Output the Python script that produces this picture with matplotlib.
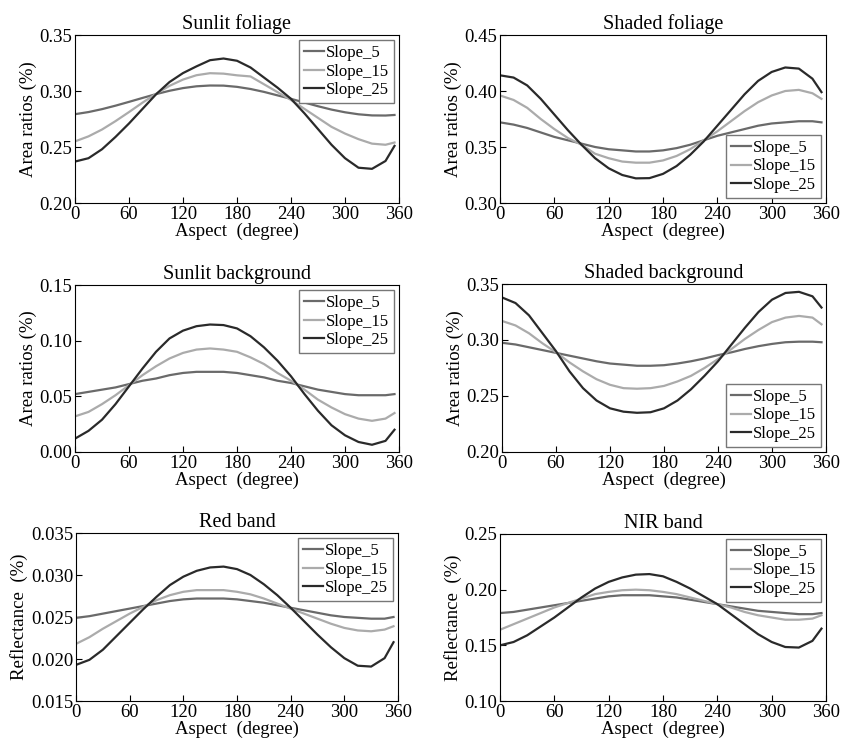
import numpy as np
import matplotlib.pyplot as plt

plt.rcParams['font.family'] = ['Liberation Serif', 'DejaVu Serif']

# aspect angles (degree)
aspect = [0, 15, 30, 45, 60, 75, 90, 105, 120, 135, 150, 165, 180,
          195, 210, 225, 240, 255, 270, 285, 300, 315, 330, 345, 355]

# Sunlit foliage
sf_5 = [.2793, .2812, .2838, .2869, .2903, .2938, .2972, .3002, .3026, .3042, .3049, .3048, .3037,
        .3018, .2992, .2961, .2930, .2897, .2864, .2834, .2810, .2792, .2782, .2781, .2786]
sf_15 = [.255, .2595, .2656, .2731, .2812, .2896, .2975, .3046, .3102, .3141, .3159, .3155, .3140,
         .313, .306, .299, .292, .284, .276, .268, .262, .257, .253, .252, .254]
sf_25 = [.237, .240, .248, .259, .271, .284, .297, .308, .316, .322, .3275, .329, .327,
         .321, .312, .303, .293, .280, .266, .252, .240, .2315, .2305, .2375, .251]

# Shaded foliage
hf_5 = [.372, .370, .367, .363, .359, .356, .353, .350, .348, .347, .346, .346, .347,
        .349, .352, .356, .360, .363, .366, .369, .371, .372, .373, .373, .372]
hf_15 = [.396, .392, .385, .375, .366, .358, .352, .344, .340, .337, .336, .336, .338,
         .342, .348, .356, .364, .373, .382, .390, .396, .400, .401, .398, .393]
hf_25 = [.414, .412, .405, .393, .379, .365, .352, .340, .331, .325, .322, .3222, .326,
         .333, .343, .355, .369, .383, .397, .409, .417, .421, .420, .411, .399]

# Sunlit background
sb_5 = [.052, .054, .056, .058, .061, .064, .066, .069, .071, .072, .072, .072, .071,
        .069, .067, .064, .062, .059, .056, .054, .052, .051, .051, .051, .052]
sb_15 = [.032, .036, .043, .051, .060, .069, .077, .084, .089, .092, .093, .092, .090,
         .085, .079, .071, .064, .056, .047, .040, .034, .030, .028, .030, .035]
sb_25 = [.012, .019, .029, .043, .059, .075, .090, .102, .109, .113, .1145, .114, .111,
         .104, .094, .082, .068, .052, .037, .024, .015, .009, .0065, .010, .020]

# Shaded background
hb_5 = [.2975, .296, .2935, .291, .2885, .286, .2835, .281, .279, .278, .277, .277, .2775,
        .279, .281, .2835, .2865, .289, .292, .2945, .2965, .298, .2985, .2985, .298]
hb_15 = [.317, .313, .306, .297, .289, .280, .272, .265, .260, .257, .2565, .257, .259,
         .263, .268, .275, .283, .292, .301, .309, .316, .320, .3215, .320, .314]
hb_25 = [.338, .333, .322, .306, .290, .272, .257, .246, .239, .236, .235, .2355, .239,
         .246, .256, .268, .281, .296, .311, .325, .336, .342, .343, .339, .329]

# Red band
rb_5 = [.0249, .0251, .0254, .0257, .0260, .0263, .0266, .0269, .0271, .0272, .0272, .0272, .0271,
        .0269, .0267, .0264, .0261, .0258, .0255, .0252, .0250, .0249, .0248, .0248, .0250]
rb_15 = [.0218, .0226, .0236, .0245, .0254, .0262, .0270, .0276, .0280, .0282, .0282, .0282, .0280,
         .0277, .0272, .0266, .0260, .0254, .0248, .0242, .0237, .0234, .0233, .0235, .0239]
rb_25 = [.0193, .0199, .0211, .0227, .0243, .0259, .0274, .0288, .0298, .0305, .0309, .0310, .0307,
         .0300, .0289, .0276, .0261, .0245, .0229, .0214, .0201, .0192, .0191, .0201, .0220]

# NIR band
nb_5 = [.179, .180, .182, .184, .186, .188, .190, .192, .194, .195, .195, .195, .194,
        .193, .191, .189, .187, .185, .183, .181, .180, .179, .178, .178, .179]
nb_15 = [.164, .169, .174, .179, .184, .188, .192, .196, .198, .1995, .200, .1995, .198,
         .196, .193, .190, .187, .184, .180, .177, .175, .173, .173, .174, .177]
nb_25 = [.150, .153, .159, .167, .175, .184, .193, .201, .207, .211, .2135, .214, .212,
         .207, .201, .194, .187, .178, .169, .160, .153, .1485, .148, .154, .165]

labels = ["Slope_5", "Slope_15", "Slope_25"]
colors = ["#6a6a6a", "#ababab", "#2a2a2a"]

W, H = 842, 742
panels = [
    # title, series, ylim, yticks, ylabel, legend loc, tick format, pixel box (left, top, right, bottom)
    ("Sunlit foliage", [sf_5, sf_15, sf_25], (0.20, 0.35), np.arange(0.20, 0.351, 0.05),
     "Area ratios (%)", "upper right", "%.2f", (75, 35, 399, 203)),
    ("Shaded foliage", [hf_5, hf_15, hf_25], (0.30, 0.45), np.arange(0.30, 0.451, 0.05),
     "Area ratios (%)", "lower right", "%.2f", (500, 35, 826, 203)),
    ("Sunlit background", [sb_5, sb_15, sb_25], (0.0, 0.15), np.arange(0.0, 0.151, 0.05),
     "Area ratios (%)", "upper right", "%.2f", (75, 285, 399, 452)),
    ("Shaded background", [hb_5, hb_15, hb_25], (0.20, 0.35), np.arange(0.20, 0.351, 0.05),
     "Area ratios (%)", "lower right", "%.2f", (502, 284, 826, 452)),
    ("Red band", [rb_5, rb_15, rb_25], (0.015, 0.035), np.arange(0.015, 0.0351, 0.005),
     "Reflectance  (%)", "upper right", "%.3f", (76, 533, 398, 701)),
    ("NIR band", [nb_5, nb_15, nb_25], (0.10, 0.25), np.arange(0.10, 0.251, 0.05),
     "Reflectance  (%)", "upper right", "%.2f", (500, 534, 826, 701)),
]

fig = plt.figure(figsize=(W / 100, H / 100), dpi=100)

for title, series, ylim, yticks, ylabel, loc, fmt, box in panels:
    l, t, r, b = box
    ax = fig.add_axes([l / W, 1 - b / H, (r - l) / W, (b - t) / H])
    for vals, lab, c in zip(series, labels, colors):
        ax.plot(aspect, vals, color=c, lw=1.6, label=lab)
    ax.set_xlim(0, 360)
    ax.set_xticks(range(0, 361, 60))
    ax.set_ylim(*ylim)
    ax.set_yticks(yticks)
    ax.set_yticklabels([fmt % v for v in yticks])
    ax.tick_params(direction="in", length=4, labelsize=13.5, top=False, right=False, pad=2)
    ax.set_title(title, fontsize=14.5, pad=4)
    ax.set_xlabel("Aspect  (degree)", fontsize=13.5, labelpad=0)
    ax.set_ylabel(ylabel, fontsize=13.5, labelpad=2)
    leg = ax.legend(loc=loc, fontsize=12, frameon=True, fancybox=False, edgecolor="#777777",
                    framealpha=1, handlelength=1.2, handletextpad=0.1, labelspacing=0.15,
                    borderpad=0.3, borderaxespad=0.3)
    leg.get_frame().set_linewidth(1.0)

fig.savefig("out.png", dpi=100)
